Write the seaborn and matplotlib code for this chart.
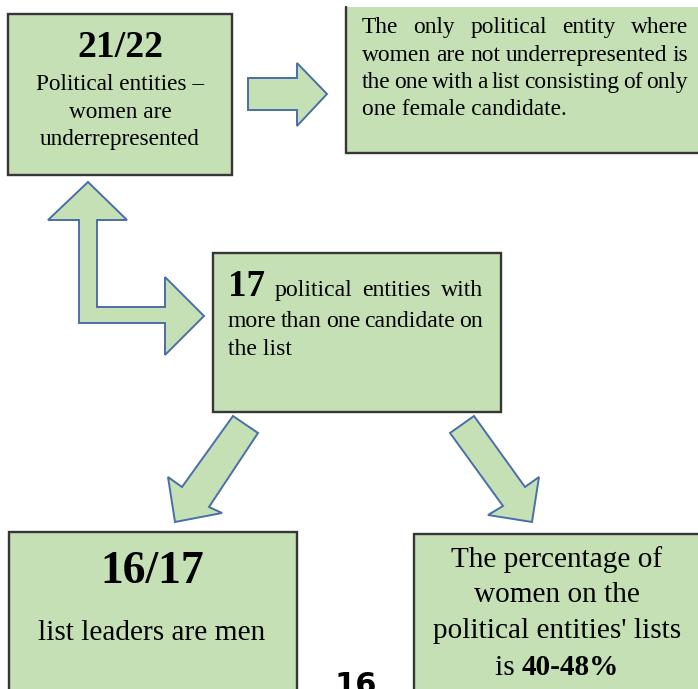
import matplotlib
matplotlib.use("Agg")
import matplotlib.pyplot as plt
import seaborn as sns
from matplotlib.patches import Rectangle, Polygon
from matplotlib.lines import Line2D

sns.set_theme(style="white")
plt.rcParams['font.family'] = ['Liberation Serif', 'DejaVu Serif']
plt.rcParams['text.color'] = 'black'

# ---- content ----
box1_big = "21/22"
box1_lines = ["Political entities \u2013", "women are", "underrepresented"]
box2_lines = ["The only political entity where",
              "women are not underrepresented is",
              "the one with a list consisting of only",
              "one female candidate."]
box3_num = "17"
box3_lines = ["political entities with", "more than one candidate on", "the list"]
box4_big = "16/17"
box4_line = "list leaders are men"
box5_lines = ["The percentage of", "women on the", "political entities' lists", "is"]
box5_value = "40-48%"
page_number = "16"

FILL = "#C5E0B4"
EDGE = "#363636"
ARROW_EDGE = "#4A6EA8"

W, H = 698, 689
fig = plt.figure(figsize=(W / 100, H / 100), dpi=100)
ax = fig.add_axes([0, 0, 1, 1])
ax.set_xlim(0, W)
ax.set_ylim(H, 0)
ax.axis("off")
renderer = fig.canvas.get_renderer()


def width_of(s, size, weight="normal", family=None):
    kw = dict(fontsize=size, fontweight=weight)
    if family:
        kw["family"] = family
    t = ax.text(0, 0, s, **kw)
    w = t.get_window_extent(renderer).width
    t.remove()
    return w


def fit(s, target, weight="normal", family=None):
    return 20 * target / width_of(s, 20, weight, family)


def justify(words, x0, x1, y):
    # words: list of (text, size, weight); spread evenly between x0 and x1
    ws = [width_of(t, s, wt) for t, s, wt in words]
    gap = max(2.0, (x1 - x0 - sum(ws)) / (len(words) - 1))
    x = x0
    for (t, s, wt), w in zip(words, ws):
        ax.text(x, y, t, fontsize=s, fontweight=wt, va="baseline", ha="left", color="black")
        x += w + gap


def box(x0, y0, x1, y1):
    ax.add_patch(Rectangle((x0, y0), x1 - x0, y1 - y0, facecolor=FILL,
                           edgecolor=EDGE, linewidth=1.7, zorder=1))


def arrow(pts):
    ax.add_patch(Polygon(pts, closed=True, facecolor=FILL, edgecolor=ARROW_EDGE,
                         linewidth=1.4, joinstyle="miter", zorder=2))


# ---- boxes ----
box(8, 14, 232, 175)
# box 2 (top edge not drawn, right side runs off the page)
ax.add_patch(Rectangle((346, 7), 380, 146, facecolor=FILL, edgecolor="none", zorder=1))
ax.add_line(Line2D([346, 346], [7, 153], color=EDGE, linewidth=1.7, zorder=1))
ax.add_line(Line2D([346, 710], [153, 153], color=EDGE, linewidth=1.7, zorder=1))
box(213, 253, 501, 412)
box(9, 532, 297, 720)
box(414, 534, 720, 720)

# ---- arrows ----
arrow([(248, 78), (297, 78), (297, 63), (327, 94), (297, 126), (297, 110), (248, 110)])
arrow([(88, 182), (127, 220), (97, 220), (97, 307), (165, 307), (165, 277), (204, 316),
       (165, 355), (165, 323), (79, 323), (79, 220), (48, 220)])
arrow([(233, 416), (258, 433), (209, 507), (222, 513), (175, 522), (168, 477), (182, 487)])
arrow([(474, 416), (450, 433), (503, 506), (488, 515), (532, 522), (539, 477), (525, 487)])

# ---- box 1 text ----
s_big1 = fit(box1_big, 86, "bold")
ax.text(120, 57, box1_big, fontsize=s_big1, fontweight="bold", ha="center", va="baseline")
s1 = fit(box1_lines[2], 160)
for line, yb in zip(box1_lines, [90, 118, 145]):
    ax.text(120, yb, line, fontsize=s1, ha="center", va="baseline")

# ---- box 2 text (justified, last line left-aligned) ----
s2 = fit(box2_lines[2], 325) * 1.045
for line, yb in zip(box2_lines[:-1], [33, 61, 88]):
    justify([(wd, s2, "normal") for wd in line.split()], 362, 688, yb)
ax.text(362, 115, box2_lines[-1], fontsize=s2, ha="left", va="baseline")

# ---- box 3 text ----
s3 = fit(box3_lines[1], 255) * 1.03
s3n = fit(box3_num, 37, "bold")
justify([(box3_num, s3n, "bold")] + [(wd, s3, "normal") for wd in box3_lines[0].split()],
        228, 483, 296)
justify([(wd, s3, "normal") for wd in box3_lines[1].split()], 228, 483, 327)
ax.text(228, 355, box3_lines[2], fontsize=s3, ha="left", va="baseline")

# ---- box 4 text ----
s4b = fit(box4_big, 104, "bold")
ax.text(152, 583, box4_big, fontsize=s4b, fontweight="bold", ha="center", va="baseline")
s4 = fit(box4_line, 228)
ax.text(152, 640, box4_line, fontsize=s4, ha="center", va="baseline")

# ---- box 5 text ----
s5 = fit(box5_lines[2], 248)
for line, yb in zip(box5_lines[:3], [567, 602, 638]):
    ax.text(557, yb, line, fontsize=s5, ha="center", va="baseline")
w_is = width_of(box5_lines[3] + " ", s5)
w_val = width_of(box5_value, s5, "bold")
xs = 557 - (w_is + w_val) / 2
ax.text(xs, 675, box5_lines[3] + " ", fontsize=s5, ha="left", va="baseline")
ax.text(xs + w_is, 675, box5_value, fontsize=s5, fontweight="bold", ha="left", va="baseline")

# ---- page number (cut off by the page edge, as in the source) ----
ax.text(356, 671, page_number, fontsize=22, fontweight="bold", family=["DejaVu Sans"],
        ha="center", va="top")

fig.savefig("out.png", dpi=100)
